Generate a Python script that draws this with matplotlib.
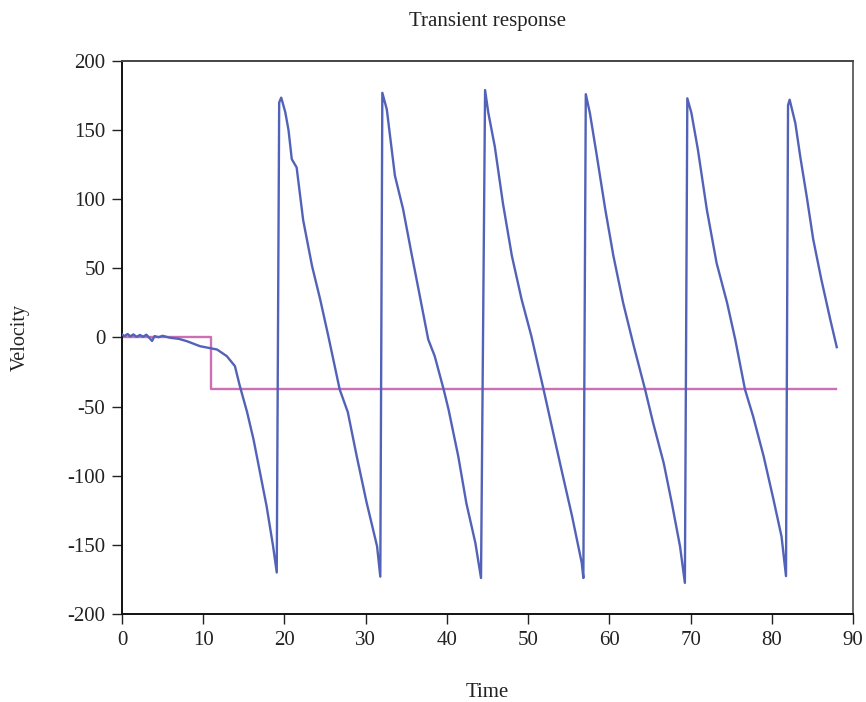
import matplotlib
matplotlib.use("Agg")
import matplotlib.pyplot as plt

cmd_t = [0.0, 10.9, 10.9, 87.9]
cmd_v = [0.0, 0.0, -37.0, -37.0]

vel_t = [0.0, 0.3, 0.7, 1.0, 1.4, 1.8, 2.2, 2.6, 3.0, 3.4, 3.7, 4.0, 4.5, 5.0,
         5.9, 7.0, 8.0, 9.6, 11.7, 12.9, 13.9, 14.5, 15.4, 16.2, 17.0, 17.8, 18.6, 19.05,
         # cycle 1
         19.35, 19.6, 20.1, 20.5, 20.9, 21.5, 22.3, 23.4, 24.4, 25.4, 26.8, 27.8, 28.9,
         30.1, 31.4, 31.8,
         # cycle 2
         32.05, 32.6, 33.6, 34.6, 35.7, 36.5, 37.7, 38.5, 39.6, 40.2, 41.4, 42.4, 43.5, 44.2,
         # cycle 3
         44.7, 45.1, 45.9, 46.9, 48.0, 49.2, 50.4, 51.9, 52.9, 54.1, 55.4, 56.6, 56.8,
         # cycle 4
         57.1, 57.6, 58.4, 59.5, 60.5, 61.7, 63.0, 64.4, 65.4, 66.7, 67.7, 68.7, 69.3,
         # cycle 5
         69.6, 70.1, 70.9, 72.0, 73.2, 74.5, 75.5, 76.7, 77.7, 79.0, 80.2, 81.2, 81.75,
         # cycle 6
         82.0, 82.2, 82.9, 83.5, 84.3, 85.1, 86.1, 87.2, 88.0]
vel_v = [2.2, 1.0, 2.5, 0.8, 2.2, 0.5, 1.8, 0.6, 2.0, -0.5, -2.5, 1.0, 0.2, 1.2,
         -0.2, -1.0, -2.7, -6.3, -8.7, -13.5, -20.7, -35.0, -54.0, -74.0, -98.0, -122.0, -151.0, -170.0,
         170.0, 173.5, 163.0, 150.0, 129.0, 123.0, 85.0, 51.6, 27.5, 1.0, -37.6, -54.0, -86.0,
         -119.0, -151.0, -173.0,
         177.0, 165.0, 117.0, 93.0, 59.0, 35.0, -1.4, -13.5, -37.6, -52.0, -86.0, -120.0, -148.5, -174.0,
         179.0, 162.5, 138.0, 97.0, 59.0, 27.5, 1.0, -37.6, -64.0, -95.5, -129.0, -163.0, -174.0,
         176.0, 162.5, 133.6, 92.6, 59.0, 25.0, -6.0, -37.6, -62.0, -91.0, -120.0, -151.0, -177.5,
         173.0, 162.5, 136.0, 92.6, 54.0, 25.0, -1.4, -37.6, -57.0, -86.0, -117.0, -144.0, -172.6,
         168.0, 172.0, 155.0, 131.0, 102.0, 71.0, 42.0, 13.0, -7.0]

x_ticks = [0, 10, 20, 30, 40, 50, 60, 70, 80, 90]
y_ticks = [-200, -150, -100, -50, 0, 50, 100, 150, 200]

BLUE = "#5262b8"
PINK = "#cc6fb3"


def main() -> None:
    plt.rcParams["font.family"] = ["Liberation Serif", "DejaVu Serif"]
    plt.rcParams["axes.unicode_minus"] = False
    fig = plt.figure(figsize=(8.66, 7.02), dpi=100)
    ax = fig.add_axes([0.1409, 0.1254, 0.8441, 0.7877])

    ax.plot(cmd_t, cmd_v, color=PINK, lw=1.7, zorder=2)
    ax.plot(vel_t, vel_v, color=BLUE, lw=1.7, zorder=3)

    ax.set_xlim(0, 90)
    ax.set_ylim(-200, 200)
    ax.set_xticks(x_ticks)
    ax.set_yticks(y_ticks)
    ax.tick_params(direction="out", length=7, width=1.0, labelsize=15,
                   colors="#222222", pad=5)
    ax.tick_params(top=False, right=False)

    ax.spines["left"].set_color("#111111")
    ax.spines["bottom"].set_color("#111111")
    ax.spines["top"].set_color("#444444")
    ax.spines["right"].set_color("#666666")
    for s in ax.spines.values():
        s.set_linewidth(1.4)

    ax.set_title("Transient response", fontsize=15, color="#222222", pad=25)
    ax.set_xlabel("Time", fontsize=15, color="#222222", labelpad=24)
    ax.set_ylabel("Velocity", fontsize=14.5, color="#222222", labelpad=27)

    fig.savefig("out.png", dpi=100)


if __name__ == "__main__":
    main()
